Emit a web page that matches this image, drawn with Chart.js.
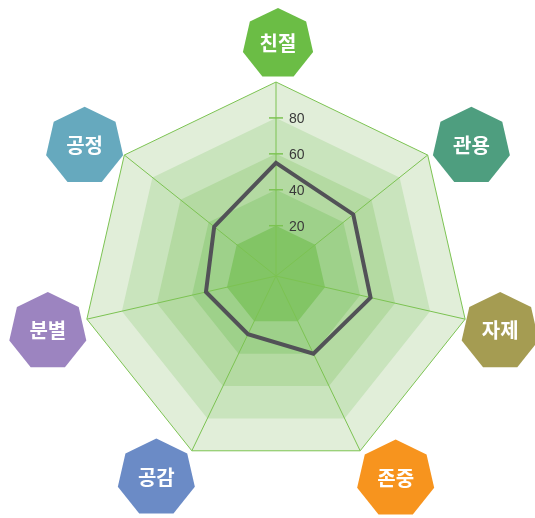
<!DOCTYPE html>
<html>
<head>
<meta charset="utf-8">
<script src="https://cdn.jsdelivr.net/npm/chart.js@4"></script>
<style>
  body { margin: 0; background: #fff; }
  #wrap { width: 535px; height: 518px; position: relative; }
</style>
</head>
<body>
<div id="wrap"><canvas id="radarChart"></canvas></div>
<script>
// --- datos del gráfico ---
const categorias = ['친절', '관용', '자제', '존중', '공감', '분별', '공정'];
const valores = [55, 47, 46, 40, 28, 32, 36];
const tickLabels = [20, 40, 60, 80];
const bandas = [100, 80, 60, 40, 20];

// estilos
const coloresBanda = ['#e1eed9', '#c9e4bd', '#b4daa2', '#9ed18a', '#82c565'];
const coloresEtiqueta = ['#6bbd45', '#4e9e7f', '#a59c52', '#f7941e', '#6b8bc6', '#9c84c0', '#66a9be'];
const radioEtiqueta = [36, 39.5, 39.5, 39.5, 39.5, 39.5, 39.5];
const ajusteEtiqueta = [[2, 0], [14, 15], [-2, 4], [19, -6], [-19, -7], [-2, 4], [-10, 15]];
const verde = '#7cc352';

// heptágono con vértice arriba
function heptagono(ctx, cx, cy, r) {
    ctx.beginPath();
    for (let k = 0; k < 7; k++) {
        const a = -Math.PI / 2 + k * 2 * Math.PI / 7;
        const x = cx + r * Math.cos(a);
        const y = cy + r * Math.sin(a);
        if (k === 0) ctx.moveTo(x, y); else ctx.lineTo(x, y);
    }
    ctx.closePath();
}

// marcas y etiquetas del eje vertical
const ticksPlugin = {
    id: 'ticksPlugin',
    afterDatasetsDraw(chart) {
        const scale = chart.scales.r;
        const ctx = chart.ctx;
        ctx.save();
        ctx.strokeStyle = verde;
        ctx.lineWidth = 1.5;
        ctx.fillStyle = '#3a3a3a';
        ctx.font = '14px "Liberation Sans", Arial, sans-serif';
        ctx.textAlign = 'left';
        ctx.textBaseline = 'middle';
        tickLabels.forEach(v => {
            const d = scale.getDistanceFromCenterForValue(v);
            const y = scale.yCenter - d;
            ctx.beginPath();
            ctx.moveTo(scale.xCenter - 7, y);
            ctx.lineTo(scale.xCenter + 7, y);
            ctx.stroke();
            ctx.fillText(String(v), scale.xCenter + 13, y + 1);
        });
        ctx.restore();
    }
};

// etiquetas en heptágonos de color
const etiquetasPlugin = {
    id: 'etiquetasPlugin',
    afterDraw(chart) {
        const scale = chart.scales.r;
        const ctx = chart.ctx;
        ctx.save();
        categorias.forEach((txt, i) => {
            const p = scale.getPointPosition(i, scale.drawingArea + 38);
            const cx = p.x + ajusteEtiqueta[i][0];
            const cy = p.y + ajusteEtiqueta[i][1];
            const r = radioEtiqueta[i];
            heptagono(ctx, cx, cy, r);
            ctx.fillStyle = coloresEtiqueta[i];
            ctx.fill();
            ctx.fillStyle = '#fff';
            ctx.font = 'bold 20px "Noto Sans CJK KR", sans-serif';
            ctx.textAlign = 'center';
            ctx.textBaseline = 'middle';
            ctx.fillText(txt, cx, cy - r * 0.05 + 1);
        });
        ctx.restore();
    }
};

const datasetsBandas = bandas.map((v, i) => ({
    data: categorias.map(() => v),
    backgroundColor: coloresBanda[i],
    borderColor: i === 0 ? verde : 'transparent',
    borderWidth: i === 0 ? 1 : 0,
    pointRadius: 0,
    fill: 'start'
})).reverse();

new Chart(document.getElementById('radarChart'), {
    type: 'radar',
    data: {
        labels: categorias,
        datasets: [
            {
                data: valores,
                borderColor: '#525257',
                borderWidth: 4,
                borderJoinStyle: 'miter',
                backgroundColor: 'transparent',
                pointRadius: 0,
                fill: false
            },
            ...datasetsBandas
        ]
    },
    options: {
        responsive: true,
        maintainAspectRatio: false,
        animation: false,
        layout: { padding: { left: 82, right: 65, top: 82, bottom: 48 } },
        plugins: {
            legend: { display: false },
            tooltip: { enabled: false },
            filler: { drawTime: 'beforeDraw' }
        },
        scales: {
            r: {
                min: -8,
                max: 100,
                ticks: { display: false, stepSize: 20 },
                grid: { display: false },
                angleLines: { display: true, color: verde, lineWidth: 1 },
                pointLabels: { display: false }
            }
        }
    },
    plugins: [ticksPlugin, etiquetasPlugin]
});
</script>
</body>
</html>
